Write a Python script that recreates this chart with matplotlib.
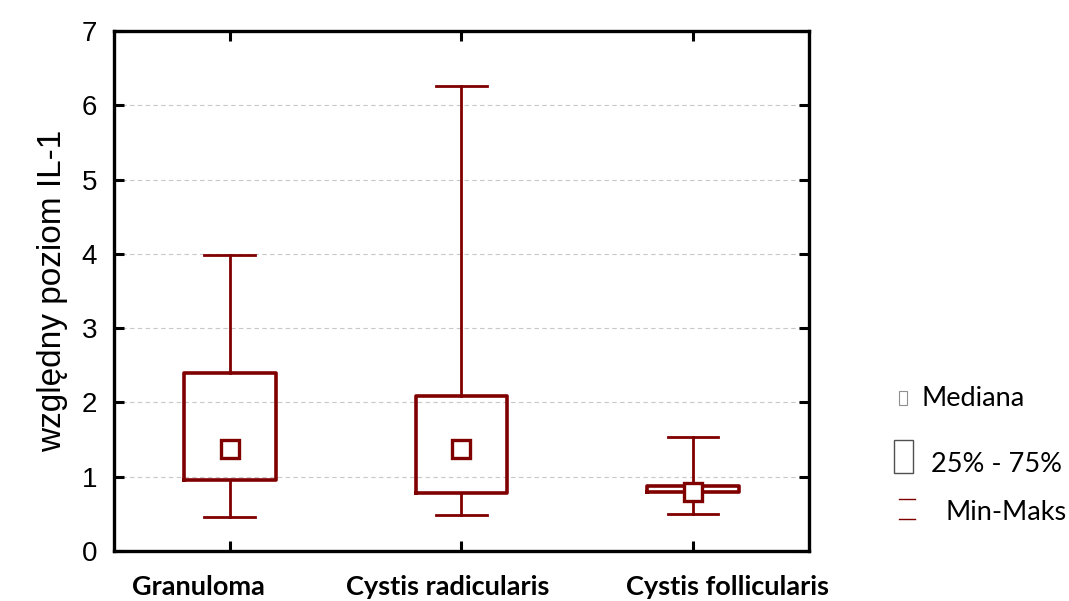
import matplotlib.pyplot as plt
import matplotlib.transforms as mtransforms
from matplotlib.patches import Rectangle
from matplotlib.lines import Line2D

categories = ['Granuloma', 'Cystis radicularis', 'Cystis follicularis']
mins = [0.46, 0.48, 0.50]
q1s = [0.96, 0.78, 0.79]
medians = [1.37, 1.37, 0.79]
q3s = [2.40, 2.09, 0.87]
maxs = [3.98, 6.26, 1.53]

red = '#800000'

fig = plt.figure(figsize=(10.69, 6.01), dpi=100)
ax = fig.add_axes([0.1066, 0.0832, 0.650, 0.865])

stats = []
for i in range(len(categories)):
    stats.append({'med': medians[i], 'q1': q1s[i], 'q3': q3s[i],
                  'whislo': mins[i], 'whishi': maxs[i], 'fliers': []})
pos = list(range(1, len(categories) + 1))
ax.bxp(stats, positions=pos, widths=0.395, capwidths=0.22, showfliers=False,
       boxprops=dict(color=red, linewidth=2.6),
       whiskerprops=dict(color=red, linewidth=2.0),
       capprops=dict(color=red, linewidth=2.0),
       medianprops=dict(linewidth=0))
ax.plot(pos, medians, 's', ms=13, mfc='white', mec=red, mew=2.4, zorder=5)

ax.set_xlim(0.5, 3.5)
ax.set_ylim(0, 7)
ax.set_yticks(range(0, 8))
ax.set_xticks(pos)
ax.set_xticklabels([])
# category labels are not centred on their ticks in the original
base = mtransforms.blended_transform_factory(ax.transData, ax.transAxes)
for p, name, dx in zip(pos, categories, [-31, -14, 35]):
    tr = base + mtransforms.ScaledTranslation(dx / 100, 0, fig.dpi_scale_trans)
    ax.text(p, -0.069, name, transform=tr, ha='center', va='center',
            fontfamily='Lato', fontweight='bold', fontsize=19.5)
for lab in ax.get_yticklabels():
    lab.set_fontfamily('Liberation Sans')
    lab.set_fontsize(20)
ax.yaxis.grid(True, linestyle=(0, (4, 3)), color='#c8c8c8', linewidth=0.8)
ax.set_axisbelow(True)
ax.tick_params(axis='y', direction='in', length=7, width=2.2, right=True, pad=12)
ax.tick_params(axis='x', direction='in', length=7, width=2.2, top=True)
for s in ax.spines.values():
    s.set_linewidth(2.4)
ax.set_ylabel('względny poziom IL-1', fontfamily='Liberation Sans', fontsize=24, labelpad=10)

# legend drawn at figure level
W, H = 1069, 601
def box(x0, y0, x1, y1, **kw):
    fig.add_artist(Rectangle((x0 / W, 1 - y1 / H), (x1 - x0) / W, (y1 - y0) / H,
                             transform=fig.transFigure, fill=False, **kw))
box(899, 391, 907, 405, edgecolor='#909090', linewidth=0.8)
box(894, 440, 913, 473, edgecolor='#505050', linewidth=1.0)
for y in (499, 519):
    fig.add_artist(Line2D([899 / W, 915 / W], [1 - y / H, 1 - y / H],
                          transform=fig.transFigure, color=red, linewidth=1.0))
lkw = dict(fontfamily='Lato', fontsize=19.5, va='center', color='black')
fig.text(921 / W, 1 - 399 / H, 'Mediana', **lkw)
fig.text(931 / W, 1 - 465 / H, '25% - 75%', **lkw)
fig.text(945 / W, 1 - 513 / H, 'Min-Maks', **lkw)

fig.savefig('out.png', dpi=100)
